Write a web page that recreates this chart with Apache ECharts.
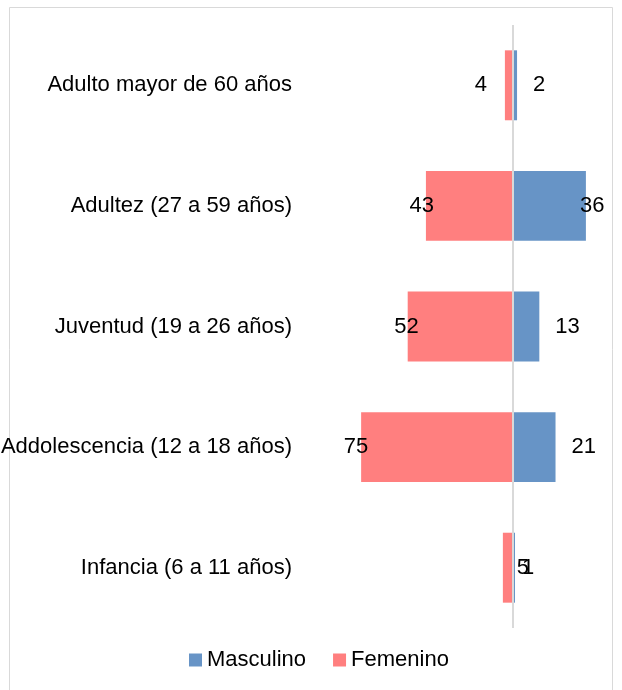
<!DOCTYPE html>
<html>
<head>
<meta charset="utf-8">
<script src="https://cdn.jsdelivr.net/npm/echarts@6/dist/echarts.min.js"></script>
<style>
html,body{margin:0;padding:0;background:#fff;}
#c{width:622px;height:690px;}
</style>
</head>
<body>
<div id="c"></div>
<script>
var categories = ['Infancia (6 a 11 años)', 'Addolescencia (12 a 18 años)', 'Juventud (19 a 26 años)', 'Adultez (27 a 59 años)', 'Adulto mayor de 60 años'];
var masculino = [1, 21, 13, 36, 2];
var femenino = [5, 75, 52, 43, 4];
var seriesNames = ['Masculino', 'Femenino'];

// label horizontal nudges (style only)
var shiftM = [2, 11, 11, -11, 11];
var shiftF = [31, 12, 16, 13, -13];

var FONT = '"Liberation Sans", Arial, sans-serif';
var FS = 22;
var chart = echarts.init(document.getElementById('c'), null, {renderer: 'canvas'});

var mData = masculino.map(function (v, i) {
  return {value: v, label: {offset: [shiftM[i], 0]}};
});
var fData = femenino.map(function (v, i) {
  return {value: -v, label: {offset: [shiftF[i], 0]}};
});

chart.setOption({
  animation: false,
  backgroundColor: '#fff',
  textStyle: {fontFamily: FONT},
  graphic: [{
    type: 'rect', silent: true,
    shape: {x: 9.5, y: 7.5, width: 603, height: 700},
    style: {fill: 'none', stroke: '#d9d9d9', lineWidth: 1}
  }],
  grid: {left: 351, right: 28, top: 25, bottom: 62, containLabel: false, outerBoundsMode: 'none'},
  xAxis: {type: 'value', min: -80, max: 40, show: false},
  yAxis: {
    type: 'category', data: categories,
    axisLine: {show: false}, axisTick: {show: false}, splitLine: {show: false},
    axisLabel: {margin: 59, fontSize: FS, color: '#000', fontFamily: FONT}
  },
  legend: {
    data: seriesNames, left: 189, top: 649, padding: 0,
    itemWidth: 13, itemHeight: 13, itemGap: 27,
    icon: 'rect',
    textStyle: {fontSize: FS, color: '#000', fontFamily: FONT}
  },
  series: [{
    name: seriesNames[0], type: 'bar', data: mData,
    barGap: '-100%', barCategoryGap: '42%',
    itemStyle: {color: '#6794c6'},
    label: {show: true, position: 'right', distance: 5, fontSize: FS, color: '#000', fontFamily: FONT,
      formatter: function (p) { return Math.abs(p.value); }},
    z: 3
  }, {
    name: seriesNames[1], type: 'bar', data: fData,
    barGap: '-100%', barCategoryGap: '42%',
    itemStyle: {color: '#ff7f7f'},
    label: {show: true, position: 'left', distance: 5, fontSize: FS, color: '#000', fontFamily: FONT,
      formatter: function (p) { return Math.abs(p.value); }},
    markLine: {
      silent: true, symbol: 'none', label: {show: false},
      lineStyle: {color: '#d9d9d9', width: 2, type: 'solid'},
      data: [{xAxis: 0}]
    },
    z: 2
  }]
});
</script>
</body>
</html>
